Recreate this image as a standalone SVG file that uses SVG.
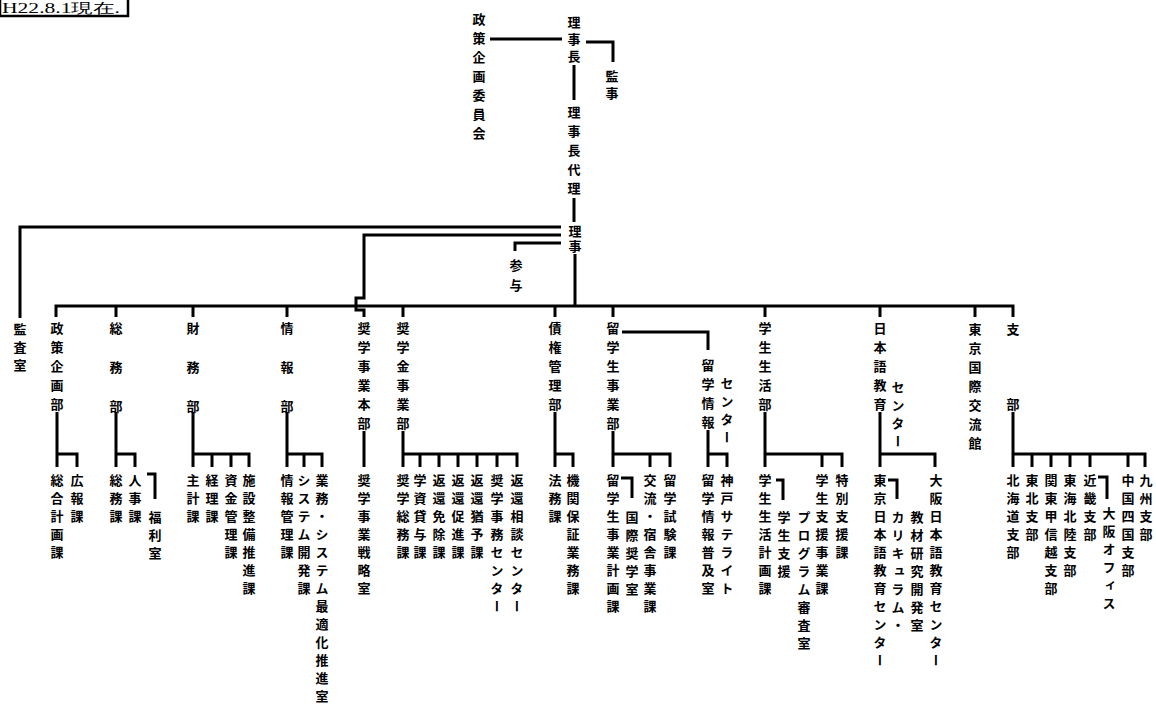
<svg xmlns="http://www.w3.org/2000/svg" width="1156" height="708" viewBox="0 0 1156 708">
<style>
.v{font-family:"Noto Sans CJK JP","Noto Sans CJK SC",sans-serif;font-size:13px;font-weight:bold;writing-mode:vertical-rl;fill:#000}
.s19{letter-spacing:6px}
.s18{letter-spacing:5px}
.s17{letter-spacing:4px}
.w26{letter-spacing:26px}
.c path{fill:none;stroke:#000;stroke-width:3}
</style>
<rect width="1156" height="708" fill="#fff"/>
<g id="date">
<rect x="0" y="-6" width="128" height="22" fill="none" stroke="#000" stroke-width="2.5"/>
<text x="2" y="12.5" font-family="Liberation Serif,serif" font-size="14" textLength="118" lengthAdjust="spacingAndGlyphs">H22.8.1現在.</text>
</g>
<g class="c" id="connectors">
<path d="M490,39H562"/>
<path d="M586,42H613V62"/>
<path d="M574,65V100"/>
<path d="M574,198V222"/>
<path d="M575,254V306"/>
<path d="M561,227H20V318"/>
<path d="M561,235H364V298H356V310H364V317"/>
<path d="M561,243H515V251"/>
<path d="M56,317V306H1013V317"/>
<path d="M116,306V317M193,306V317M287,306V317M403,306V317M555,306V317M613,306V317M765,306V317M880,306V317M975,306V317"/>
<path d="M622,332H708V350"/>
<path d="M57,412V467M57,454H77V467"/>
<path d="M116,412V467M116,454H135V467"/>
<path d="M147,474H155V499"/>
<path d="M193,412V467M193,454H249V467M212,454V467M231,454V467"/>
<path d="M287,412V467M287,454H322V467M304,454V467"/>
<path d="M364,431V467"/>
<path d="M403,431V467M403,454H517V467M420,454V467M439,454V467M458,454V467M477,454V467M497,454V467"/>
<path d="M555,412V467M555,454H573V467"/>
<path d="M613,431V467M613,454H670V467M650,454V467"/>
<path d="M621,478H632V498"/>
<path d="M708,430V467M708,454H727V467"/>
<path d="M765,412V467M765,454H842V467M822,454V467"/>
<path d="M776,480H783V500"/>
<path d="M880,412V467M880,454H935V467"/>
<path d="M888,480H897V499"/>
<path d="M1013,412V467M1013,454H1145V467M1032,454V467M1051,454V467M1070,454V467M1090,454V467M1128,454V467"/>
<path d="M1098,477H1107V499"/>
</g>
<g id="seisaku-iinkai"><text class="v s19" x="479" y="13">政策企画委員会</text></g>
<g id="rijicho"><text class="v s17" x="574" y="16">理事長</text></g>
<g id="kanji"><text class="v" style="letter-spacing:3.5px" x="612" y="70">監事</text></g>
<g id="rijicho-dairi"><text class="v s19" x="574" y="106">理事長代理</text></g>
<g id="riji"><text class="v" style="letter-spacing:2px" x="575" y="224.5">理事</text></g>
<g id="sanyo"><text class="v" style="letter-spacing:7px" x="516" y="259">参与</text></g>
<g id="kansa"><text class="v s18" x="20" y="323">監査室</text></g>
<g id="seisaku"><text class="v s19" x="57" y="322">政策企画部</text></g>
<g id="somu"><text class="v w26" x="116" y="322">総務部</text></g>
<g id="zaimu"><text class="v w26" x="193" y="322">財務部</text></g>
<g id="joho"><text class="v w26" x="287" y="322">情報部</text></g>
<g id="shogaku-honbu"><text class="v s19" x="364" y="322">奨学事業本部</text></g>
<g id="shogakukin"><text class="v s19" x="403" y="322">奨学金事業部</text></g>
<g id="saiken"><text class="v s19" x="555" y="322">債権管理部</text></g>
<g id="ryugakusei"><text class="v s19" x="613" y="322">留学生事業部</text></g>
<g id="ryugaku-joho"><text class="v s19" x="708" y="358.5">留学情報</text><text class="v s18" x="727" y="376.5">センター</text></g>
<g id="gakusei"><text class="v s19" x="765" y="322">学生生活部</text></g>
<g id="nihongo"><text class="v s19" x="880" y="322">日本語教育</text><text class="v s18" x="898" y="380.5">センター</text></g>
<g id="kokusai"><text class="v s19" x="975" y="323">東京国際交流館</text></g>
<g id="shibu"><text class="v" style="letter-spacing:62px" x="1013" y="323">支部</text></g>
<g id="sub" class="sub">
<g id="s1"><text class="v s18" x="57" y="474">総合計画課</text></g>
<g id="s2"><text class="v s18" x="77" y="474">広報課</text></g>
<g id="s3"><text class="v s18" x="116" y="474">総務課</text></g>
<g id="s4"><text class="v s18" x="135" y="474">人事課</text></g>
<g id="s5"><text class="v s18" x="155" y="511">福利室</text></g>
<g id="s6"><text class="v s18" x="193" y="474">主計課</text></g>
<g id="s7"><text class="v s18" x="212" y="474">経理課</text></g>
<g id="s8"><text class="v s18" x="231" y="474">資金管理課</text></g>
<g id="s9"><text class="v s18" x="249" y="474">施設整備推進課</text></g>
<g id="s10"><text class="v s18" x="287" y="474">情報管理課</text></g>
<g id="s11"><text class="v s18" x="304" y="474">システム開発課</text></g>
<g id="s12"><text class="v s18" x="322" y="474">業務・システム最適化推進室</text></g>
<g id="s13"><text class="v s18" x="364" y="474">奨学事業戦略室</text></g>
<g id="s14"><text class="v s18" x="403" y="474">奨学総務課</text></g>
<g id="s15"><text class="v s18" x="420" y="474">学資貸与課</text></g>
<g id="s16"><text class="v s18" x="439" y="474">返還免除課</text></g>
<g id="s17"><text class="v s18" x="458" y="474">返還促進課</text></g>
<g id="s18"><text class="v s18" x="477" y="474">返還猶予課</text></g>
<g id="s19"><text class="v s18" x="497" y="474">奨学事務センター</text></g>
<g id="s20"><text class="v s18" x="517" y="474">返還相談センター</text></g>
<g id="s21"><text class="v s18" x="555" y="474">法務課</text></g>
<g id="s22"><text class="v s18" x="573" y="474">機関保証業務課</text></g>
<g id="s23"><text class="v s18" x="613" y="474">留学生事業計画課</text></g>
<g id="s24"><text class="v s18" x="632" y="511">国際奨学室</text></g>
<g id="s25"><text class="v s18" x="650" y="474">交流・宿舎事業課</text></g>
<g id="s26"><text class="v s18" x="670" y="474">留学試験課</text></g>
<g id="s27"><text class="v s18" x="708" y="474">留学情報普及室</text></g>
<g id="s28"><text class="v s18" x="727" y="474">神戸サテライト</text></g>
<g id="s29"><text class="v s18" x="765" y="474">学生生活計画課</text></g>
<g id="s30"><text class="v s18" x="784" y="511">学生支援</text><text class="v s18" x="804" y="511">プログラム審査室</text></g>
<g id="s31"><text class="v s18" x="822" y="474">学生支援事業課</text></g>
<g id="s32"><text class="v s18" x="842" y="474">特別支援課</text></g>
<g id="s33"><text class="v s18" x="880" y="474">東京日本語教育センター</text></g>
<g id="s34"><text class="v s18" x="898" y="511">カリキュラム・</text><text class="v s18" x="917" y="511">教材研究開発室</text></g>
<g id="s35"><text class="v s18" x="936" y="474">大阪日本語教育センター</text></g>
<g id="s36"><text class="v s18" x="1013" y="474">北海道支部</text></g>
<g id="s37"><text class="v s18" x="1032" y="474">東北支部</text></g>
<g id="s38"><text class="v s18" x="1051" y="474">関東甲信越支部</text></g>
<g id="s39"><text class="v s18" x="1070" y="474">東海北陸支部</text></g>
<g id="s40"><text class="v s18" x="1090" y="474">近畿支部</text></g>
<g id="s41"><text class="v s18" x="1109" y="507">大阪オフィス</text></g>
<g id="s42"><text class="v s18" x="1128" y="474">中国四国支部</text></g>
<g id="s43"><text class="v s18" x="1146" y="474">九州支部</text></g>
</g>
</svg>
